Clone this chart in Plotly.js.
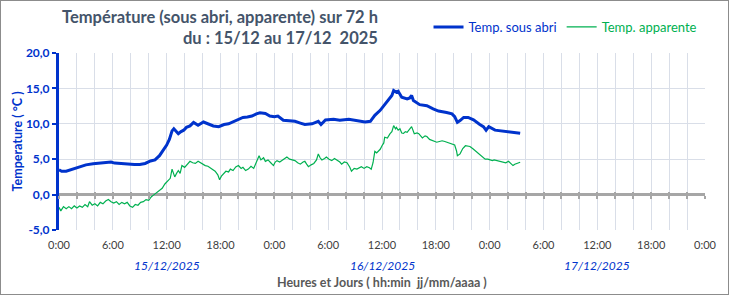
<!DOCTYPE html>
<html>
<head>
<meta charset="utf-8">
<script src="https://cdn.plot.ly/plotly-3.0.1.min.js"></script>
<style>
html,body{margin:0;padding:0;background:#fff;}
#wrap{width:727px;height:293px;border:1px solid #8C8C8C;}
</style>
</head>
<body>
<div id="wrap"><div id="chart"></div></div>
<script>
// ---- data (hours since 15/12/2025 0:00) ----
const blueHours = [0,0.3,0.8,1.5,2.2,3.0,3.8,4.5,5.3,5.8,6.2,7.0,7.7,8.4,9.0,9.6,10.2,10.7,11.2,11.6,12.0,12.3,12.6,12.8,13.0,13.3,13.6,13.9,14.2,14.6,15.0,15.5,16.1,16.6,17.2,17.8,18.4,18.9,19.4,19.8,20.5,21.0,21.5,22.0,22.4,23.0,23.5,24.0,24.4,25.0,25.7,26.3,26.9,27.4,28.2,28.9,29.2,29.7,30.6,31.3,32.3,33.2,34.1,34.7,35.2,35.8,36.3,36.7,37.1,37.3,37.6,37.8,38.2,38.8,39.1,39.3,39.5,40.2,41.0,41.7,42.3,43.2,43.8,44.1,44.4,44.7,45.1,45.6,46.2,46.9,47.3,47.6,47.9,48.6,49.5,50.5,51.4];
const blueTemp = [3.5,3.3,3.3,3.6,3.9,4.2,4.35,4.42,4.45,4.6,4.45,4.35,4.33,4.25,4.25,4.4,4.75,4.9,5.5,6.3,7.0,7.8,9.0,9.3,9.0,8.6,8.9,9.1,9.5,9.7,10.2,9.8,10.25,10.0,9.7,9.6,9.9,10.0,10.3,10.45,10.9,10.95,11.1,11.4,11.55,11.45,11.1,11.0,11.1,10.5,10.4,10.35,10.1,9.9,10.0,10.35,9.9,10.55,10.65,10.5,10.65,10.45,10.25,10.35,11.2,11.9,12.7,13.2,14.0,14.7,14.45,14.6,13.75,13.5,13.65,14.0,13.3,12.7,12.55,12.1,11.8,11.6,11.4,11.0,10.2,10.45,10.9,10.9,10.55,9.9,9.6,9.1,9.6,9.1,8.95,8.75,8.65];
const greenHours = [0.0,0.2,0.5,0.8,1.1,1.4,1.7,2.0,2.3,2.6,2.9,3.2,3.4,3.7,4.0,4.3,4.6,4.9,5.2,5.5,5.8,6.1,6.4,6.7,7.0,7.3,7.6,7.9,8.2,8.5,8.8,9.1,9.4,9.7,10.0,10.3,10.6,10.9,11.2,11.5,11.8,12.1,12.4,12.6,12.9,13.1,13.3,13.5,13.7,14.0,14.3,14.6,14.9,15.2,15.5,15.7,16.0,16.3,16.6,16.8,17.1,17.4,17.7,17.9,18.1,18.3,18.6,18.9,19.1,19.4,19.7,20.0,20.3,20.5,20.8,21.1,21.4,21.7,21.9,22.1,22.3,22.5,22.8,23.0,23.3,23.6,23.9,24.1,24.3,24.6,24.8,25.1,25.4,25.7,26.0,26.3,26.6,26.9,27.2,27.4,27.6,27.8,28.1,28.4,28.7,28.9,29.1,29.3,29.6,29.8,30.1,30.4,30.7,31.0,31.3,31.5,31.8,32.1,32.4,32.6,32.9,33.2,33.5,33.7,34.0,34.3,34.6,34.8,35.0,35.2,35.4,35.6,35.8,36.0,36.2,36.3,36.6,36.9,37.1,37.3,37.5,37.6,37.8,38.0,38.2,38.4,38.6,38.8,39.1,39.3,39.6,39.9,40.1,40.3,40.5,40.8,41.0,41.3,41.5,41.8,42.1,42.4,42.7,43.0,43.2,43.5,43.8,44.1,44.3,44.4,44.7,45.0,45.3,45.6,45.8,46.1,46.4,46.7,46.9,47.2,47.5,47.8,48.0,48.3,48.5,48.8,49.1,49.3,49.5,49.8,50.1,50.3,50.6,50.8,51.0,51.2,51.4];
const greenTemp = [-1.8,-2.3,-1.7,-2.0,-1.7,-2.0,-1.6,-1.9,-1.6,-1.8,-1.4,-1.7,-1.0,-1.5,-1.3,-1.6,-1.1,-1.3,-0.9,-0.7,-1.0,-1.2,-1.0,-1.4,-1.1,-1.3,-1.1,-1.6,-1.8,-1.4,-1.5,-1.1,-1.0,-0.7,-0.8,-0.3,0.0,0.3,0.6,0.9,1.5,1.9,2.3,3.6,2.5,3.0,3.4,3.0,4.1,3.85,4.3,4.7,4.5,4.4,4.7,4.55,4.3,4.1,4.0,3.85,3.6,3.3,2.8,2.1,2.6,2.9,3.3,3.2,3.6,3.4,3.9,4.1,3.7,3.85,3.4,3.6,4.0,3.7,4.3,4.8,5.5,4.9,5.2,4.7,4.9,4.5,4.1,4.6,4.8,4.6,4.8,5.1,5.3,5.0,4.9,4.8,4.5,4.3,4.6,4.7,4.3,3.95,4.2,4.4,4.9,5.75,5.2,4.9,5.1,5.3,5.0,4.8,5.1,4.9,4.6,4.3,4.6,4.5,3.9,3.3,3.7,3.6,3.8,3.95,3.7,3.95,3.8,3.6,4.5,6.1,5.9,6.2,6.4,6.9,7.3,8.1,8.0,8.6,8.9,9.75,9.3,9.5,9.1,9.3,8.7,8.65,8.9,8.8,9.2,9.6,8.6,8.7,8.6,8.3,8.0,8.3,8.2,7.8,7.7,7.6,7.4,7.5,7.6,7.5,7.4,7.2,7.05,7.0,6.2,5.5,5.75,6.5,6.9,6.85,6.8,6.5,6.2,5.9,5.65,5.3,5.0,5.0,4.9,4.8,4.9,4.8,4.7,4.6,4.57,4.5,4.7,4.4,4.1,4.3,4.4,4.5,4.57];
const xTickVals = [0,2,4,6,8,10,12,14,16,18,20,22,24,26,28,30,32,34,36,38,40,42,44,46,48,50,52,54,56,58,60,62,64,66,68,70,72];
const xTickText = ["0:00","","","6:00","","","12:00","","","18:00","","","0:00","","","6:00","","","12:00","","","18:00","","","0:00","","","6:00","","","12:00","","","18:00","","","0:00"];
const yTickVals = [-5,0,5,10,15,20];
const yTickText = ["-5,0","0,0","5,0","10,0","15,0","20,0"];
const dayLabels = ["15/12/2025","16/12/2025","17/12/2025"];
const dayCenters = [12,36,60];
const seriesNames = ["Temp. sous abri","Temp. apparente"];

const BLUE = '#0033CC', GREEN = '#00B050', GRID = '#D9DEE8', FONT = 'Lato, "Open Sans", sans-serif';

const traces = [
  {x: blueHours, y: blueTemp, type: 'scatter', mode: 'lines', name: '<span style="color:'+BLUE+'">'+seriesNames[0]+'</span>',
   line: {color: BLUE, width: 3}, hoverinfo: 'skip'},
  {x: greenHours, y: greenTemp, type: 'scatter', mode: 'lines', name: '<span style="color:'+GREEN+'">'+seriesNames[1]+'</span>',
   line: {color: GREEN, width: 1.2}, hoverinfo: 'skip'},
  {x: [], y: [], xaxis: 'x2', type: 'scatter', showlegend: false, hoverinfo: 'skip'},
  {x: [], y: [], xaxis: 'x3', type: 'scatter', showlegend: false, hoverinfo: 'skip'}
];

const annotations = [
  {text: '<b>Température (sous abri, apparente) sur 72 h</b>', xref: 'paper', yref: 'paper', x: 0.4969, y: 1.2034, xanchor: 'right', yanchor: 'middle', showarrow: false,
   font: {family: FONT, size: 16.5, color: '#44546A'}},
  {text: '<b>du : 15/12 au 17/12  2025</b>', xref: 'paper', yref: 'paper', x: 0.4969, y: 1.0847, xanchor: 'right', yanchor: 'middle', showarrow: false,
   font: {family: FONT, size: 16.5, color: '#44546A'}},
  {text: '<b>Temperature ( °C )</b>', xref: 'paper', yref: 'paper', x: -0.0635, y: 0.5, xanchor: 'center', yanchor: 'middle', textangle: -90, showarrow: false,
   font: {family: FONT, size: 12.5, color: BLUE}},
  {text: '<b>Heures et Jours ( hh:min  jj/mm/aaaa )</b>', xref: 'paper', yref: 'paper', x: 0.5, y: -0.294, xanchor: 'center', yanchor: 'middle', showarrow: false,
   font: {family: FONT, size: 12.5, color: '#595959'}}
];
dayLabels.forEach((d, i) => annotations.push({
  text: '<i>' + d + '</i>', xref: 'x', yref: 'paper', x: dayCenters[i], y: -0.198, xanchor: 'center', yanchor: 'middle', showarrow: false,
  font: {family: FONT, size: 12, color: BLUE}
}));

const layout = {
  width: 727, height: 293,
  margin: {l: 58, r: 23, t: 52, b: 64, autoexpand: false},
  paper_bgcolor: '#fff', plot_bgcolor: '#fff',
  font: {family: FONT},
  separators: ', ',
  showlegend: true,
  legend: {orientation: 'h', x: 0.572, xanchor: 'left', y: 1.147, yanchor: 'middle',
    font: {family: FONT, size: 13}, bgcolor: 'rgba(0,0,0,0)', itemwidth: 30},
  xaxis: {range: [0, 72], tickmode: 'array', tickvals: xTickVals, ticktext: xTickText,
    showgrid: true, gridcolor: GRID, gridwidth: 1, zeroline: false, showline: false, ticks: '',
    ticklabelstandoff: 7,
    tickfont: {family: FONT, size: 11, color: '#404040'}, fixedrange: true},
  xaxis2: {range: [0, 72], overlaying: 'x', anchor: 'free', position: 0.2, tickmode: 'array', tickvals: xTickVals,
    showticklabels: false, showgrid: false, zeroline: false, showline: false, ticks: 'outside', ticklen: 3, tickwidth: 2, tickcolor: '#A6A6A6'},
  xaxis3: {range: [0, 72], overlaying: 'x', anchor: 'free', position: 0.2, tickmode: 'array', tickvals: xTickVals,
    showticklabels: false, showgrid: false, zeroline: false, showline: false, ticks: 'inside', ticklen: 3, tickwidth: 2, tickcolor: '#A6A6A6'},
  yaxis: {range: [-5, 20], tickmode: 'array', tickvals: yTickVals, ticktext: yTickText,
    showgrid: true, gridcolor: GRID, gridwidth: 1,
    zeroline: true, zerolinecolor: '#A6A6A6', zerolinewidth: 3,
    showline: true, linecolor: BLUE, linewidth: 3, ticks: 'outside', ticklen: 4, tickwidth: 2, tickcolor: BLUE,
    tickfont: {family: FONT, size: 12, color: BLUE, weight: 'bold'}, fixedrange: true},
  annotations: annotations
};

Plotly.newPlot('chart', traces, layout, {displayModeBar: false, staticPlot: true});
</script>
</body>
</html>
